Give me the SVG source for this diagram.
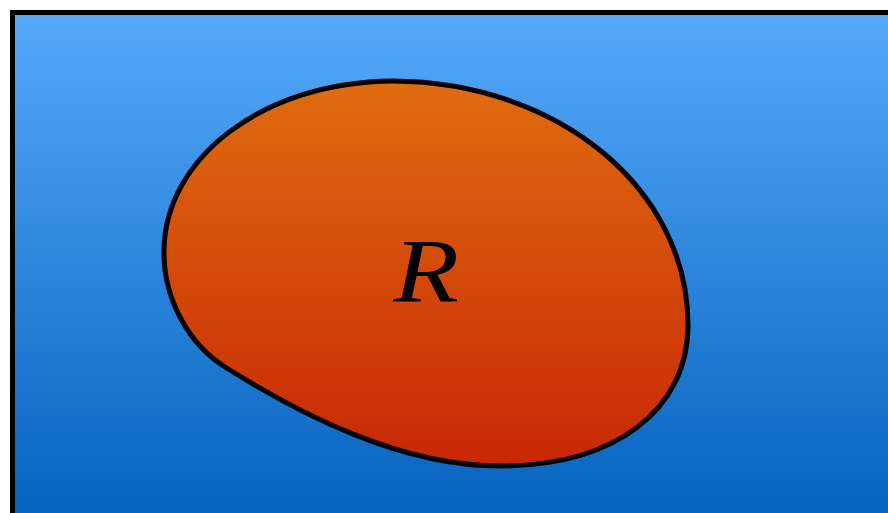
<svg xmlns="http://www.w3.org/2000/svg" width="888" height="513" viewBox="0 0 888 513">
  <defs>
    <linearGradient id="bg" gradientUnits="userSpaceOnUse" x1="0" y1="15" x2="0" y2="513">
      <stop offset="0" stop-color="#56a9f9"/>
      <stop offset="1" stop-color="#0563bf"/>
    </linearGradient>
    <linearGradient id="blob" gradientUnits="userSpaceOnUse" x1="0" y1="81" x2="0" y2="466">
      <stop offset="0" stop-color="#e06c10"/>
      <stop offset="1" stop-color="#c82704"/>
    </linearGradient>
    <style>
      .frame { fill: url(#bg); stroke: #000; stroke-width: 5; }
      .region { fill: url(#blob); stroke: #000; stroke-width: 5; stroke-linejoin: round; }
      .label { font-family: "Liberation Serif", "Times New Roman", serif; font-style: italic; font-size: 92px; fill: #000; }
    </style>
  </defs>
  <rect width="888" height="513" fill="#ffffff"/>
  <g id="universe">
    <rect class="frame" x="12.5" y="12.5" width="900" height="520"/>
  </g>
  <g id="region-R">
    <path class="region" d="M 225 367 C 190 345, 163 300, 164 250 C 165 160, 260 82, 393 81 C 560 82, 688 190, 688 325 C 688 410, 615 466, 500 466 C 400 466, 300 414, 225 367 Z"/>
    <text class="label" transform="translate(426 302) scale(1.17 1)" text-anchor="middle">R</text>
  </g>
</svg>
